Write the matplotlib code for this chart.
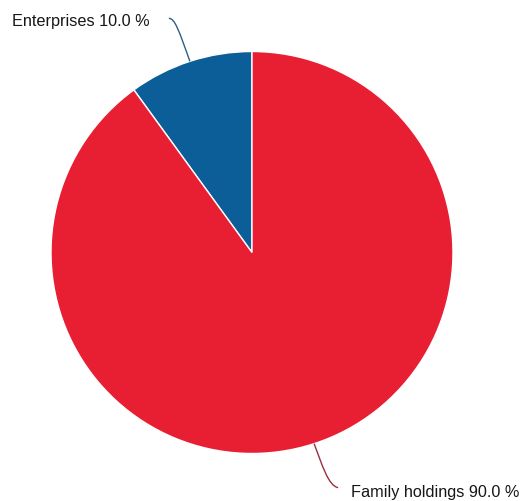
import numpy as np
import matplotlib
matplotlib.use("Agg")
import matplotlib.pyplot as plt
from matplotlib.path import Path
from matplotlib.patches import PathPatch

# Shares of holdings by type
categories = ["Enterprises", "Family holdings"]
shares = [10.0, 90.0]
colors = ["#0b5e98", "#e81f33"]
line_colors = ["#2d5f86", "#9a2f3e"]

W, H = 521, 501
fig = plt.figure(figsize=(W / 100, H / 100), dpi=100)
ax = fig.add_axes([0, 0, 1, 1])
ax.set_xlim(0, W)
ax.set_ylim(0, H)
ax.set_aspect("equal")
ax.axis("off")

cx, cy, r = 252.0, H - 252.5, 201.0
wedges, _ = ax.pie(shares, colors=colors, startangle=90, counterclock=True,
                   radius=r, center=(cx, cy),
                   wedgeprops=dict(edgecolor="white", linewidth=1.0))
ax.set_xlim(0, W)
ax.set_ylim(0, H)

font = dict(family=["Liberation Sans", "DejaVu Sans"], size=11.7, color="#161616")

for i, (w, name, val) in enumerate(zip(wedges, categories, shares)):
    mid = np.deg2rad((w.theta1 + w.theta2) / 2)
    ex, ey = cx + r * np.cos(mid), cy + r * np.sin(mid)
    label = f"{name} {val:.1f} %"
    if np.sin(mid) > 0:
        # label above left: line leaves the rim upward, bends to the text end
        tx, ty = ex - 21, ey + 43
        verts = [(ex, ey), (ex - 11, ey + 31), (ex - 15, ey + 43), (tx, ty)]
        ax.text(tx - 19, ty - 8, label, ha="right", va="baseline", **font)
    else:
        # label below right: line leaves the rim downward, bends to the text start
        tx, ty = ex + 24, ey - 44
        verts = [(ex, ey), (ex + 8, ey - 21), (ex + 14, ey - 42), (tx, ty)]
        ax.text(tx + 13, ty - 9, label, ha="left", va="baseline", **font)
    path = Path(verts, [Path.MOVETO, Path.CURVE4, Path.CURVE4, Path.CURVE4])
    ax.add_patch(PathPatch(path, fill=False, edgecolor=line_colors[i], lw=1.0))

fig.savefig("out.png", dpi=100, facecolor="white")
